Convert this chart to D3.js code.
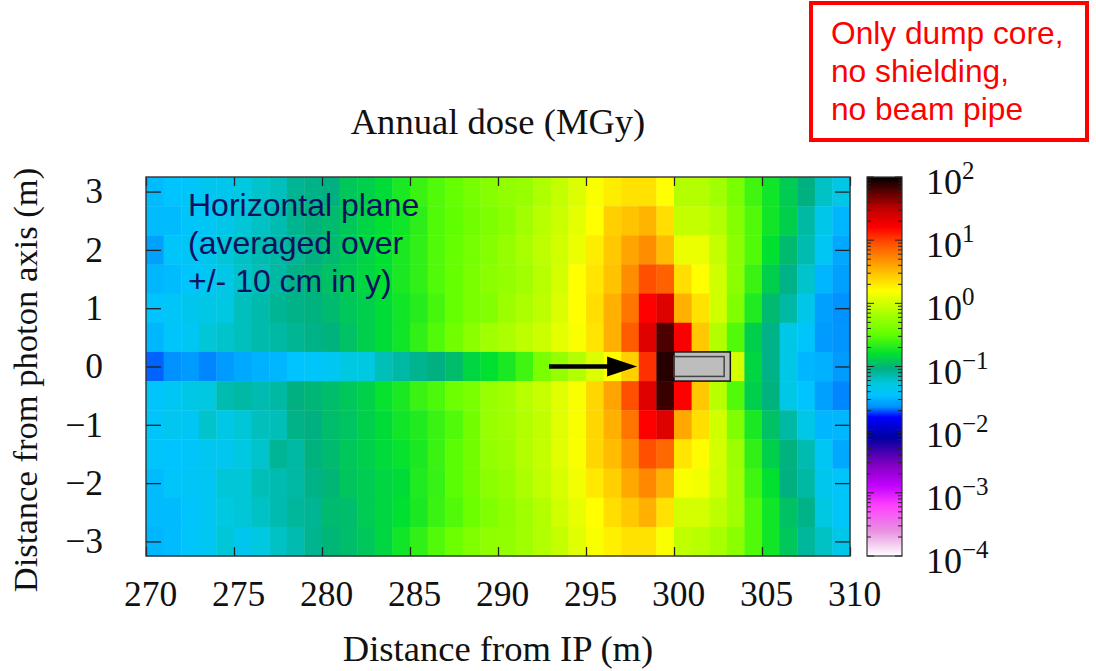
<!DOCTYPE html>
<html>
<head>
<meta charset="utf-8">
<script src="https://cdnjs.cloudflare.com/ajax/libs/d3/7.8.5/d3.min.js"></script>
<style>
  body { margin: 0; background: #fff; }
  svg { display: block; }
  text { font-family: "Liberation Serif", serif; fill: #111; }
  .sans { font-family: "Liberation Sans", sans-serif; }
  .domain { display: none; }
  .tick line { stroke: #222; stroke-width: 1.3; }
</style>
</head>
<body>
<div id="chart"></div>
<script>
// columns are 1 m wide (270-310), rows are 0.5 m high, listed from top to bottom
var rowCentres = [3, 2.5, 2, 1.5, 1, 0.5, 0, -0.5, -1, -1.5, -2, -2.5, -3];
var xTicks = [270, 275, 280, 285, 290, 295, 300, 305, 310];
var yTicks = [-3, -2, -1, 0, 1, 2, 3];
var barExponents = [2, 1, 0, -1, -2, -3, -4];

// log10 of the annual dose in MGy, one line per row
var row0 = [-1.48,-1.45,-1.42,-1.35,-1.35,-1.27,-1.22,-1.18,-1.08,-1.05,-1.03,-.92,-.88,-.82,-.72,-.62,-.55,-.48,-.4,-.32,-.27,-.24,-.14,-.05,.05,.18,.28,.33,.33,.2,-.12,-.12,-.2,-.38,-.6,-.75,-.9,-1.03,-1.2,-1.3];
var row1 = [-1.48,-1.48,-1.42,-1.38,-1.32,-1.25,-1.2,-1.15,-1.07,-1.02,-.98,-.92,-.86,-.8,-.75,-.66,-.55,-.5,-.42,-.36,-.3,-.2,-.1,-.02,.08,.2,.42,.47,.53,.35,-.05,-.05,-.13,-.33,-.55,-.75,-.88,-1.12,-1.33,-1.5];
var row2 = [-1.58,-1.42,-1.4,-1.35,-1.25,-1.2,-1.15,-1.12,-1.08,-1.03,-.98,-.92,-.86,-.8,-.72,-.65,-.55,-.47,-.4,-.33,-.25,-.17,-.08,0,.12,.28,.45,.6,.7,.5,.12,.12,-.05,-.3,-.55,-.8,-.98,-1.15,-1.38,-1.55];
var row3 = [-1.5,-1.48,-1.42,-1.38,-1.3,-1.22,-1.17,-1.12,-1.05,-1,-.95,-.9,-.85,-.8,-.72,-.65,-.55,-.47,-.38,-.3,-.26,-.2,-.1,.02,.2,.32,.47,.7,.95,.88,.35,.2,0,-.3,-.62,-.88,-1.05,-1.22,-1.5,-1.58];
var row4 = [-1.45,-1.4,-1.35,-1.3,-1.28,-1.18,-1.14,-1.08,-1.05,-1.02,-.98,-.92,-.88,-.82,-.75,-.68,-.58,-.48,-.38,-.34,-.22,-.15,-.08,.05,.2,.35,.55,.8,1.2,1.35,.55,.33,0,-.35,-.7,-.98,-1.12,-1.33,-1.58,-1.63];
var row5 = [-1.5,-1.42,-1.38,-1.25,-1.22,-1.18,-1.14,-1.12,-1.08,-1.05,-1.02,-.95,-.88,-.82,-.75,-.65,-.55,-.42,-.3,-.2,-.15,-.08,-.02,.08,.18,.32,.55,.9,1.35,1.8,1.22,.45,-.12,-.55,-.88,-1.05,-1.3,-1.42,-1.6,-1.62];
var row6 = [-1.69,-1.63,-1.6,-1.65,-1.6,-1.55,-1.52,-1.5,-1.45,-1.42,-1.38,-1.28,-1.27,-1.17,-1.12,-1.07,-1.03,-.97,-.85,-.8,-.72,-.6,-.38,-.25,-.12,.05,.2,.42,1.05,1.9,1.3,.5,.2,.02,-.85,-1.05,-1.3,-1.5,-1.52,-1.6];
var row7 = [-1.42,-1.38,-1.3,-1.27,-1.15,-1.12,-1.15,-1.12,-1.03,-1,-.97,-.92,-.87,-.78,-.72,-.62,-.56,-.44,-.38,-.24,-.2,-.1,-.03,.07,.18,.38,.6,.95,1.35,1.85,1.2,.45,-.1,-.55,-.88,-1.02,-1.3,-1.45,-1.58,-1.65];
var row8 = [-1.42,-1.36,-1.38,-1.22,-1.3,-1.25,-1.18,-1.17,-1.05,-1.03,-.97,-.94,-.88,-.82,-.75,-.7,-.62,-.55,-.42,-.24,-.2,-.13,-.06,.07,.18,.38,.55,.8,1.2,1.35,.58,.35,0,-.35,-.72,-.95,-1.12,-1.3,-1.5,-1.5];
var row9 = [-1.42,-1.45,-1.42,-1.36,-1.36,-1.27,-1.22,-1.08,-1.12,-1.02,-.98,-.92,-.88,-.83,-.78,-.72,-.62,-.52,-.42,-.26,-.22,-.13,-.05,.07,.18,.38,.5,.68,.95,.85,.32,.22,.02,-.22,-.65,-.88,-1.02,-1.15,-1.38,-1.55];
var row10 = [-1.48,-1.42,-1.4,-1.38,-1.25,-1.25,-1.17,-1.15,-1.12,-1.05,-1,-.93,-.9,-.85,-.82,-.7,-.63,-.52,-.42,-.3,-.25,-.15,-.07,.03,.15,.3,.42,.58,.72,.55,.18,.15,0,-.2,-.6,-.8,-1.03,-1.12,-1.35,-1.42];
var row11 = [-1.48,-1.48,-1.43,-1.38,-1.27,-1.25,-1.2,-1.15,-1.1,-1.08,-.98,-.97,-.9,-.85,-.8,-.72,-.62,-.55,-.45,-.35,-.28,-.2,-.12,0,.1,.2,.35,.45,.55,.33,.02,.02,-.08,-.2,-.55,-.75,-.95,-1.05,-1.27,-1.42];
var row12 = [-1.5,-1.48,-1.42,-1.38,-1.25,-1.35,-1.27,-1.2,-1.15,-1.07,-1,-.97,-.92,-.85,-.75,-.65,-.55,-.45,-.35,-.28,-.27,-.2,-.13,-.05,.07,.18,.27,.33,.33,.18,-.07,-.1,-.17,-.3,-.55,-.75,-.92,-1.1,-1.2,-1.33];
var rows = [row0, row1, row2, row3, row4, row5, row6, row7, row8, row9, row10, row11, row12];

// palette of the colour bar: exponent -> colour
var paletteStops = [-4, -3.6, -3.2, -2.88, -2.55, -2.13, -1.8, -1.64, -1.45, -1.27, -1.03, -0.8, -0.5, -0.2, 0.2, 0.45, 0.72, 0.95, 1.2, 1.5, 2];
var paletteColors = ["#ffffff", "#e890e0", "#ff40ff", "#c000ff", "#8000c0", "#0000a0", "#0000ff", "#0090ff", "#00c4ff", "#00c8e0", "#00b080", "#00e030", "#60ff00", "#a0ff00", "#ffff00", "#ffc800", "#ff8800", "#ff5000", "#ff0000", "#c00000", "#000000"];

var width = 1096;
var height = 671;
var plot = { left: 146, right: 850, top: 177, bottom: 556 };
var bar = { left: 867, right: 902 };

var svg = d3.select("#chart").append("svg")
  .attr("width", width)
  .attr("height", height);

var xScale = d3.scaleLinear().domain([270, 310]).range([plot.left, plot.right]);
var yScale = d3.scaleLinear().domain([-3.25, 3.25]).range([plot.bottom, plot.top]);
var colorScale = d3.scaleLinear().domain(paletteStops).range(paletteColors).clamp(true);
var barScale = d3.scaleLinear().domain([-4, 2]).range([plot.bottom, plot.top]);

// heat map cells
rows.forEach(function (row, r) {
  svg.append("g").selectAll("rect")
    .data(row)
    .enter()
    .append("rect")
    .attr("x", function (d, i) { return xScale(270 + i); })
    .attr("y", yScale(rowCentres[r] + 0.25))
    .attr("width", xScale(271) - xScale(270) + 0.4)
    .attr("height", yScale(0) - yScale(0.5) + 0.4)
    .attr("fill", function (d) { return colorScale(d); });
});

// axes, gnuplot style with ticks pointing inwards
var xAxis = svg.append("g")
  .attr("transform", "translate(0," + plot.bottom + ")")
  .call(d3.axisBottom(xScale).tickValues(xTicks).tickSizeInner(-9).tickPadding(25));
// the labels sit a few pixels right of their ticks in the original
xAxis.selectAll("text").attr("font-size", 35.5).attr("dx", 4);

svg.append("g")
  .attr("transform", "translate(0," + plot.top + ")")
  .call(d3.axisTop(xScale).tickValues(xTicks).tickSizeInner(-9).tickFormat(""));

var yAxis = svg.append("g")
  .attr("transform", "translate(" + plot.left + ",0)")
  .call(d3.axisLeft(yScale).tickValues(yTicks).tickSizeInner(-15).tickPadding(43).tickFormat(function (d) {
    return d < 0 ? "\u2212" + (-d) : d;
  }));
yAxis.selectAll("text").attr("font-size", 35.5);

svg.append("g")
  .attr("transform", "translate(" + plot.right + ",0)")
  .call(d3.axisRight(yScale).tickValues(yTicks).tickSizeInner(-15).tickFormat(""));

svg.append("rect")
  .attr("x", plot.left).attr("y", plot.top)
  .attr("width", plot.right - plot.left).attr("height", plot.bottom - plot.top)
  .attr("fill", "none").attr("stroke", "#333").attr("stroke-width", 1.4);

// colour bar
var defs = svg.append("defs");
var grad = defs.append("linearGradient").attr("id", "barGrad")
  .attr("x1", 0).attr("y1", 1).attr("x2", 0).attr("y2", 0);
paletteStops.forEach(function (s, i) {
  grad.append("stop").attr("offset", (s + 4) / 6).attr("stop-color", paletteColors[i]);
});
svg.append("rect")
  .attr("x", bar.left).attr("y", plot.top)
  .attr("width", bar.right - bar.left).attr("height", plot.bottom - plot.top)
  .attr("fill", "url(#barGrad)").attr("stroke", "#333").attr("stroke-width", 1.2);

var minorOffsets = [2, 3, 4, 5, 6, 7, 8, 9];
barExponents.forEach(function (e) {
  var group = svg.append("g");
  if (e > -4) {
    minorOffsets.forEach(function (m) {
      var y = barScale(e - 1 + Math.log10(m));
      group.append("line").attr("x1", bar.left).attr("x2", bar.left + 4).attr("y1", y).attr("y2", y).attr("stroke", "#222");
      group.append("line").attr("x1", bar.right - 4).attr("x2", bar.right).attr("y1", y).attr("y2", y).attr("stroke", "#222");
    });
  }
  var yMajor = barScale(e);
  group.append("line").attr("x1", bar.left).attr("x2", bar.left + 7).attr("y1", yMajor).attr("y2", yMajor).attr("stroke", "#222");
  group.append("line").attr("x1", bar.right - 7).attr("x2", bar.right).attr("y1", yMajor).attr("y2", yMajor).attr("stroke", "#222");

  var label = group.append("text").attr("x", 926).attr("y", yMajor + 17).attr("font-size", 36);
  label.append("tspan").text("10");
  label.append("tspan").attr("dy", -15).attr("font-size", 25).text(e < 0 ? "\u2212" + (-e) : e);
});

// titles
svg.append("text").attr("x", 498).attr("y", 134).attr("text-anchor", "middle").attr("font-size", 36.6).text("Annual dose (MGy)");
svg.append("text").attr("x", 498).attr("y", 661).attr("text-anchor", "middle").attr("font-size", 36.6).text("Distance from IP (m)");
svg.append("text").attr("transform", "translate(37,380) rotate(-90)").attr("text-anchor", "middle").attr("font-size", 34.6).text("Distance from photon axis (m)");

// note inside the plot
var noteLines = ["Horizontal plane", "(averaged over", "+/- 10 cm in y)"];
svg.append("g").selectAll("text").data(noteLines).enter().append("text")
  .attr("class", "sans")
  .attr("x", 188)
  .attr("y", function (d, i) { return 216 + i * 38; })
  .attr("font-size", 32)
  .style("fill", "#10105f")
  .text(function (d) { return d; });

// dump core box
svg.append("rect")
  .attr("x", xScale(300)).attr("y", yScale(0.25))
  .attr("width", xScale(303.2) - xScale(300)).attr("height", yScale(-0.25) - yScale(0.25))
  .attr("fill", "#bdbdbd").attr("stroke", "#111").attr("stroke-width", 1.5);
svg.append("rect")
  .attr("x", xScale(300)).attr("y", yScale(0.17))
  .attr("width", xScale(302.85) - xScale(300)).attr("height", yScale(-0.17) - yScale(0.17))
  .attr("fill", "none").attr("stroke", "#444").attr("stroke-width", 1.5);

// beam arrow
svg.append("line")
  .attr("x1", xScale(292.9)).attr("x2", xScale(296.5))
  .attr("y1", yScale(0)).attr("y2", yScale(0))
  .attr("stroke", "#000").attr("stroke-width", 4.5);
svg.append("path")
  .attr("d", d3.line()([[xScale(296.2), yScale(0.17)], [xScale(297.9), yScale(0)], [xScale(296.2), yScale(-0.17)]]) + "Z")
  .attr("fill", "#000");

// red note box
svg.append("rect")
  .attr("x", 811).attr("y", 3).attr("width", 276).attr("height", 137)
  .attr("fill", "#fff").attr("stroke", "#f00").attr("stroke-width", 4);
var redLines = ["Only dump core,", "no shielding,", "no beam pipe"];
svg.append("g").selectAll("text").data(redLines).enter().append("text")
  .attr("class", "sans")
  .attr("x", 831)
  .attr("y", function (d, i) { return 44 + i * 38; })
  .attr("font-size", 31.7)
  .style("fill", "#f00")
  .text(function (d) { return d; });
</script>
</body>
</html>
